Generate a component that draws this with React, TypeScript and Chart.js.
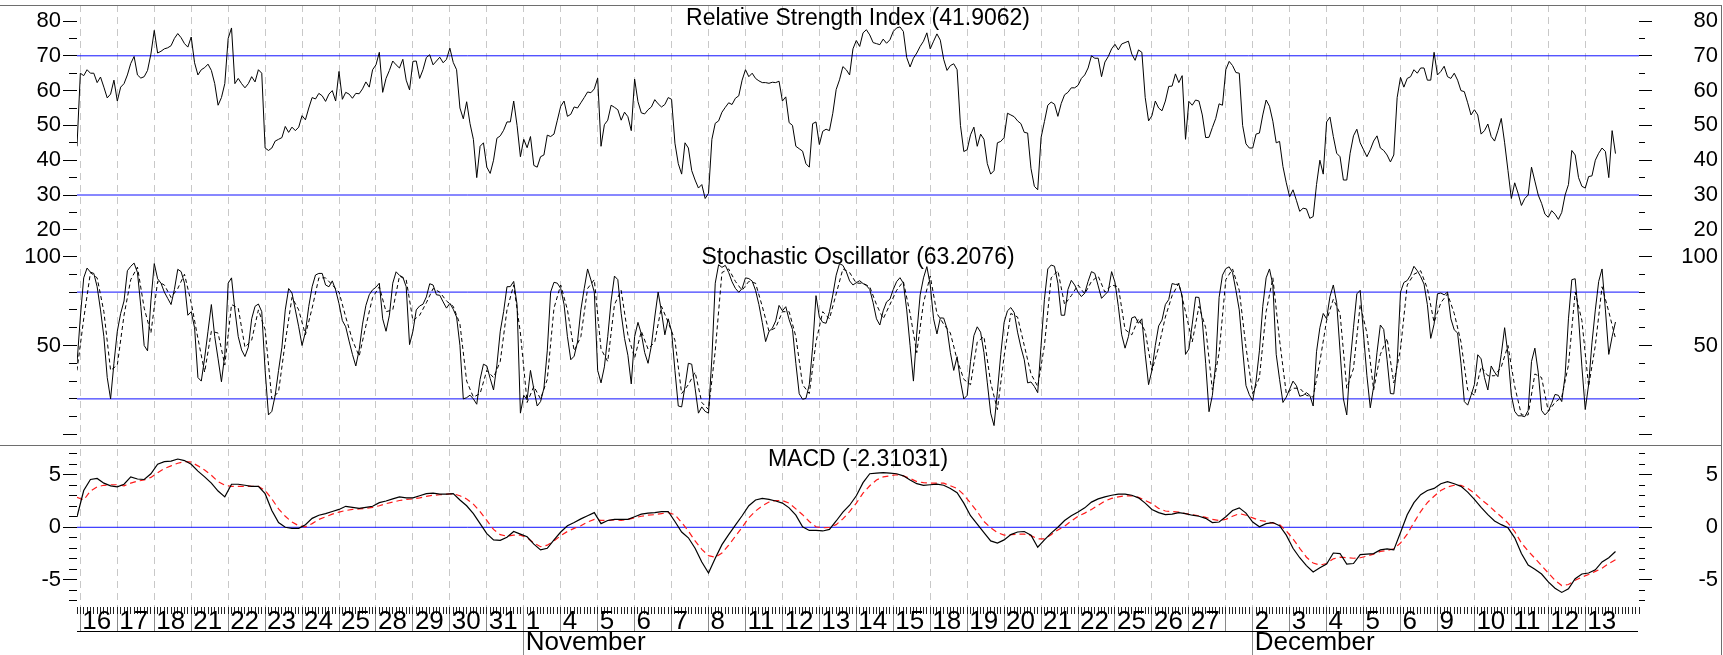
import React, { useEffect, useRef } from 'react';
import { Chart, registerables } from 'chart.js';

Chart.register(...registerables);

// ---------------- data ----------------
const DAY_LABELS = ['16','17','18','21','22','23','24','25','28','29','30','31','1','4','5','6','7','8','11','12','13','14','15','18','19','20','21','22','25','26','27','','2','3','4','5','6','9','10','11','12','13'];
const BARS_PER_DAY = [11,11,11,11,11,11,11,11,11,11, 11,11,11,11,11,11,11,11,11,11, 11,11,11,11,11,11,11,11,11,11, 11,8,11,11,11,11,11,11,11,11, 11,11];
const FIRST_SESSION_BAR = 1;
const LAST_AXIS_BAR = 465;
const MONTH_LABELS = ['November', 'December'];
const MONTH_FIRST_DAY = [12, 32];

const RSI_TITLE = 'Relative Strength Index (41.9062)';
const STOCH_TITLE = 'Stochastic Oscillator (63.2076)';
const MACD_TITLE = 'MACD (-2.31031)';

const RSI_STEP = 1;
const RSI = [
44,65,64.3,66,65,65,62.3,63.9,61,57.9,
59,63,57,61,62,64.5,67.8,69.8,64.5,63.6,
64,65.8,70.5,77.3,70.8,71.3,72,72.3,72.9,75,
76.4,75.2,73.5,72.5,75.4,68,64.5,66,66.6,67.6,
65.8,62,55.8,58,62,75,78,62,63.5,62,
60.8,62,64,62.5,66,65,43.5,42.8,43.5,45.5,
46,46.5,49.7,48,49.5,48.5,49.5,52.8,51.6,55,
58,57.6,59.2,58.5,56.9,59,60,57,65.5,57.5,
59.5,59,57.8,59.2,59.1,60.5,62.5,61,66,67.4,
71,59.5,63.5,65.8,68.5,67.4,66.5,69,63,60.2,
68.4,68.5,63.5,66,69.5,70.3,67.4,68.5,69.6,68,
69,72.2,68.1,66,55,51.9,56.8,50.5,46,35,
44,45,38,36.2,40,46.3,47,48.6,51,51,
57,50,41,46,43.6,46.8,38.5,38,41,41.5,
47.2,46.8,47.5,51.5,55.5,57,52.6,53.2,55.3,55,
56.5,58,59.6,59.4,60.5,63.6,44,50.2,51.5,55.8,
55.2,54.5,51.5,53.8,52.5,48.5,63.3,56.8,53.6,53.3,
54.5,55.3,57.4,56.2,55.3,56,58,57.5,44.9,39,
36,45,43.5,37,34.3,32,33,29,30.5,46,
50.6,51.3,53.8,55.2,56.5,56,57.8,58.5,63,66,
64,65,63.5,62.8,62.3,62.3,62.1,62.4,62.3,62.7,
57,58.2,50.8,50,44,43.3,42.6,39,38,50.5,
51,44.5,48.3,48.9,48.5,53.5,60.3,63.1,66.9,66,
64.5,72,74.4,72.7,76.6,77.5,76,73.8,73.5,73.2,
74.8,73.6,74.6,77,78,78.3,77,69.5,66.8,69.3,
70.8,72.7,74.2,76.6,72,74.2,76.3,74.5,69,65.8,
67.2,67.7,66,50,42.5,43,47.3,49.5,44,47.5,
46,39,36,37,45,45.4,46.5,53.5,53,52.5,
51.3,50.5,48,47.8,37.6,32.5,31.5,46.5,51.1,55.8,
56.7,56.1,52.6,56.3,58.8,59.5,60.8,60.8,61.5,63.5,
64.5,66.5,70,69.3,69.3,64,68.2,69.8,72,73.3,
71.7,73.4,73.8,74.2,70.5,68.7,71.7,71,58,51.3,
52.8,57,55,54.2,57,61.2,61.3,64.8,62.3,64.3,
46,56.9,55.8,57.3,57,53,46.5,46.6,49.4,52,
56.2,55.8,66,68.4,67.2,65.2,65,50,44.7,43.5,
43.5,47.5,47.8,53,57.3,55.5,51.2,45,45.4,38.2,
33.5,29.5,31.5,28.5,25.3,26.2,26,23.3,23.8,33,
40,36,51,52.4,46.8,42,41,34.3,34.3,42,
47,48.9,45,43,41,43,45.5,47,43.5,42.8,
41.5,39.5,41.5,58,63.8,61,63.5,64,66,65,
66.5,66.5,63,63,71,64.5,65.5,67,64,63.5,
65,63,60,59.7,56.5,53,54.5,53,47.5,48.5,
50.4,46.8,45.5,48.5,52,45,37,29,33.5,30.5,
27,29,30,38,34,30,27.6,24.5,23.6,25.5,
24.5,23,25,30,33,42.8,41.5,35,32.5,32,
35.3,35.5,40,42,43.5,42.5,35,48.5,41.9
];

const STOCH_K_STEP = 1;
const STOCH_K = [
40,66,88,93.5,91.2,90.5,83,70,55,32,
20,40,58,68,75,92,94.5,96.3,91,72,
50,47,75,96,87.5,85,80,76.5,73,81.5,
92.8,91.5,85,67,69,60,32,30,43,58,
73,55,42.5,29.6,45,85,88,70,55,47.5,
43.8,49,65,72,73.3,69,36,11,13,22,
36,49,70,82,79.5,70,60.5,50,57.5,72,
83,89.6,90.5,90.5,84,83,86.3,81.2,73.5,64,
60.5,52.5,45,38.5,47.5,62,72.5,78.5,81.3,82.7,
85,65,58,67,85,91.4,89.4,88.4,83,50.5,
58,70,72.2,73.2,77.3,84.7,84,78.5,78.2,74.5,
71,73.7,70.4,66,50,20,20.7,22.1,20,17,
31,39.5,38.5,31.5,25,39,58,69,83,83.1,
86,73,12,22,19.5,36,25.5,16,18.5,26,
47,80,85.5,85,82,73,55,42,44,52,
70,82,93,86.8,80,36,29,38,55,75,
89,87,68,54,44.5,28.4,55,63,56.5,46,
40,50,66,80,69,56,65,58,36,16,
15.5,27,40,39.5,26,12,15.5,13,12,43,
85,95.4,93.9,95,91,85.8,82.1,79.9,82,88,
87.6,86.2,81,73,63,52.2,57.9,59.7,63.8,72.5,
69.5,71.8,64.5,59,40,22.9,19.8,20.3,28,49,
78,66,63,62.5,69,78.4,89.5,96,95,91.5,
86.3,84,85.3,86.4,84.8,83.7,81.5,74,65,61.5,
69.5,74.5,76,81.5,85.9,88.1,85,70,50,30,
57,78.4,88,94.3,84,65,56.5,65.5,65.4,59.5,
46,36,43.7,30,20,22,41,55.5,60.5,57.5,
46,29,12,5,24,45,63,69.5,71.3,68.5,
57.5,49,42,29,29.5,27,23.5,50,76,93,
95.2,94.5,85,67,67,81.5,86.6,84,80,77.5,
79.4,86,91.5,90.5,83.5,76.5,78.5,80.5,91.5,85.5,
72,56,48.5,55,65.5,66.2,62.5,65,45,28,
36,50,61,64.3,73,75.8,84.8,84.3,84.5,78,
45,48,62,77.2,77,64,40,12.8,22,40,
77,89.5,93.2,94.2,91,81,70,48,27.5,22.3,
19,30,47,72,88,93,84,45,31,18,
21,25.5,30,27.5,21.5,22,23.5,22,16,46.5,
60,68,65,77.5,84,74,47,20,11,40,
60,79,81,56,33,15,27,46,61.5,59,
42,23,22.8,40,80,85.4,86.5,89.5,94.5,92,
88.7,84.5,73,54,62,79,79.5,78.5,80,65,
58.8,57,40,18.5,16.5,22,28,44.8,42.5,32,
25,38.5,35,32.5,45,60,45,22,13,10.5,
10.5,10,13.5,41,48.5,35,13.5,11,13,17.5,
22.5,22,18.5,33,65,87,87.5,66,38,14,
28,51.5,70,86,93,70,45,55,63.2
];

const STOCH_D_STEP = 2;
const STOCH_D = [
36,65,91,88,69,36,39,67,87,94,
71,57,86,84,77,82,90,74,54,35,
58,57,39,73,71,49,53,70,59,20,
24,52,77,70,56,71,88,88,84,80,
66,53,44,61,77,83,69,70,89,87,
64,67,74,82,80,75,72,62,30,21,
23,36,32,41,70,84,57,18,27,20,
31,71,84,70,47,55,82,87,48,41,
73,81,56,43,58,48,52,72,63,53,
23,28,35,18,14,47,91,93,86,81,
86,85,72,58,60,69,69,55,28,23,
52,69,65,79,93,91,85,85,83,73,
65,73,81,86,68,46,74,89,68,62,
57,42,31,28,52,55,29,14,44,68,
66,50,34,27,50,88,92,73,78,84,
79,86,89,80,84,83,59,56,65,58,
36,49,66,78,85,69,52,72,60,25,
46,87,93,81,49,23,32,69,88,53,
23,26,26,22,21,41,64,76,68,26,
37,73,57,25,45,54,29,48,84,90,
92,82,63,74,79,68,52,25,22,38,
33,33,38,50,27,11,11,34,32,13,
18,21,39,80,64,27,50,83,69,54
];

const MACD_STEP = 2;
const MACD = [
1.0,3.5,4.55,4.65,4.2,3.95,3.85,4.1,4.8,4.6,
4.55,5.1,6.0,6.25,6.3,6.5,6.35,6.0,5.35,4.8,
4.2,3.45,2.9,4.1,4.1,4.0,3.9,3.9,3.2,1.6,
0.45,0,-0.1,-0.1,0.25,0.85,1.15,1.3,1.5,1.7,
2.0,1.9,1.8,1.9,2.0,2.35,2.5,2.7,2.9,2.8,
2.8,3.0,3.2,3.25,3.15,3.15,3.2,2.6,2.05,1.3,
0.35,-0.6,-1.2,-1.25,-0.95,-0.4,-0.65,-0.9,-1.6,-2.15,
-2.0,-1.2,-0.45,0.15,0.45,0.8,1.1,1.4,0.35,0.65,
0.75,0.75,0.75,1.0,1.25,1.35,1.4,1.5,1.5,0.55,
-0.45,-1.0,-2.0,-3.3,-4.35,-2.95,-1.65,-0.7,0.2,1.1,
2.05,2.6,2.75,2.65,2.5,2.3,1.85,1.15,0.05,-0.3,
-0.3,-0.35,-0.2,0.6,1.45,2.1,3.0,4.25,5.1,5.15,
5.2,5.15,5.1,4.9,4.5,4.15,4.0,4.05,4.1,4.0,
3.7,3.3,2.3,1.1,0.3,-0.5,-1.3,-1.5,-1.2,-0.7,
-0.45,-0.4,-0.75,-1.9,-1.2,-0.55,0,0.65,1.1,1.45,
1.85,2.4,2.7,2.9,3.05,3.15,3.15,3.05,2.8,2.3,
1.7,1.4,1.2,1.25,1.4,1.3,1.15,1.05,0.85,0.45,
0.5,1.0,1.6,1.85,1.35,0.5,0.05,0.35,0.45,0.15,
-0.75,-2.0,-2.9,-3.65,-4.25,-3.85,-3.5,-2.45,-2.5,-3.5,
-3.45,-2.6,-2.55,-2.5,-2.15,-2.05,-2.15,-0.5,1.2,2.35,
3.1,3.5,3.7,4.15,4.35,4.15,3.9,3.35,2.65,1.9,
1.2,0.6,0.25,-0.05,-1.0,-2.5,-3.6,-4.0,-4.45,-5.2,
-5.8,-6.2,-5.85,-4.9,-4.45,-4.35,-4.05,-3.3,-2.9,-2.31
];

const SIGNAL_STEP = 2;
const SIGNAL = [
2.85,2.6,3.45,3.85,4.0,4.05,4.05,3.95,4.2,4.4,
4.5,4.75,5.2,5.6,5.85,6.1,6.25,6.2,5.85,5.45,
4.95,4.35,4.0,3.9,3.9,3.9,3.9,3.9,3.5,2.7,
1.75,1.05,0.5,0.15,0.05,0.35,0.75,1.0,1.25,1.45,
1.6,1.7,1.75,1.8,1.9,2.05,2.25,2.4,2.55,2.65,
2.7,2.8,2.95,3.05,3.1,3.15,3.2,3.0,2.7,2.2,
1.5,0.65,-0.2,-0.7,-0.85,-0.75,-0.75,-1.0,-1.5,-1.85,
-1.7,-1.3,-0.8,-0.4,-0.1,0.15,0.5,0.75,0.65,0.65,
0.7,0.65,0.75,0.9,1.05,1.15,1.2,1.3,1.4,1.2,
0.45,-0.35,-1.3,-2.1,-2.7,-2.85,-2.45,-1.7,-0.85,0.0,
0.9,1.55,2.05,2.4,2.55,2.55,2.3,1.75,1.2,0.55,
0.05,-0.05,0.0,0.25,0.8,1.5,2.3,3.25,3.95,4.5,
4.8,4.9,5.0,4.9,4.65,4.35,4.25,4.2,4.2,4.2,
3.95,3.7,3.1,2.3,1.5,0.55,-0.05,-0.5,-0.75,-0.7,
-0.65,-0.65,-0.8,-1.1,-1.1,-0.7,-0.25,0.1,0.6,1.05,
1.35,1.7,2.1,2.5,2.75,2.9,3.0,3.0,2.85,2.55,
2.25,1.8,1.55,1.5,1.45,1.3,1.2,1.1,0.95,0.75,
0.65,0.75,1.05,1.3,1.15,0.9,0.65,0.55,0.4,0.25,
-0.35,-1.1,-2.0,-2.85,-3.4,-3.6,-3.45,-3.0,-2.85,-2.9,
-2.95,-2.9,-2.75,-2.55,-2.3,-2.2,-2.05,-1.5,-0.65,0.45,
1.5,2.35,2.95,3.5,3.85,4.0,4.0,3.7,3.25,2.65,
2.15,1.55,1.0,0.4,-0.4,-1.5,-2.25,-2.95,-3.65,-4.35,
-5.05,-5.55,-5.45,-5.05,-4.75,-4.5,-4.2,-3.9,-3.45,-3.1
];

const RSI_LEVELS = [70, 30];
const STOCH_LEVELS = [80, 20];
const MACD_LEVELS = [0];

// ---------------- layout / style ----------------
const W = 1723;
const H = 655;
const SANS = "'Liberation Sans', Arial, Helvetica, sans-serif";
const NARROW = "'Liberation Sans Narrow', 'Arial Narrow', 'Liberation Sans', sans-serif";

const RSI_RANGE = [17.07, 84.6];
const STOCH_RANGE = [-6.46, 109.27];
const MACD_RANGE = [-7.59, 7.74];
const PANEL_WEIGHTS = [235, 206, 161];
const TITLE_DY = [13.5, 17.5, 13.7];

const fixSize = (w?: number, h?: number) => (s: any) => {
  if (w !== undefined) s.width = w;
  if (h !== undefined) s.height = h;
  s.paddingTop = 0; s.paddingBottom = 0; s.paddingLeft = 0; s.paddingRight = 0;
};

function yAxis(o: any) {
  return {
    type: 'linear',
    position: o.position,
    stack: o.stack,
    stackWeight: o.stackWeight,
    weight: o.weight,
    min: o.range[0],
    max: o.range[1],
    grid: { display: true, drawOnChartArea: false, drawTicks: true, tickLength: o.tickLength, tickColor: '#000', tickWidth: 1, lineWidth: 1 },
    border: { display: false },
    ticks: {
      display: !!o.labels,
      stepSize: o.step,
      includeBounds: false,
      autoSkip: false,
      font: { family: SANS, size: 22 },
      color: '#000',
      padding: 2,
      crossAlign: o.crossAlign || 'near',
      callback: (v: number) => (o.hideZero && v === 0 ? '' : String(v)),
    },
    afterFit: fixSize(o.width),
  };
}

const xy = (vals: number[], step: number) => vals.map((y, i) => ({ x: i * step, y }));
const hline = (v: number) => [{ x: 0, y: v }, { x: LAST_AXIS_BAR, y: v }];

const titlePlugin = {
  id: 'panelTitles',
  beforeDatasetsDraw(chart: any) {
    const ctx = chart.ctx;
    const ca = chart.chartArea;
    const cx = (ca.left + ca.right) / 2;
    ctx.save();
    ctx.font = `23px ${SANS}`;
    ctx.fillStyle = '#000';
    ctx.textAlign = 'center';
    ctx.textBaseline = 'middle';
    const items = [
      [RSI_TITLE, 'yRsi', TITLE_DY[0]],
      [STOCH_TITLE, 'ySto', TITLE_DY[1]],
      [MACD_TITLE, 'yMacd', TITLE_DY[2]],
    ];
    for (const [t, id, dy] of items as any) {
      ctx.fillText(t, cx, chart.scales[id].top + dy);
    }
    ctx.restore();
  },
};

export default function App() {
  const ref = useRef<HTMLCanvasElement | null>(null);

  useEffect(() => {
    if (!ref.current) return;
    const dayStarts: number[] = [];
    let acc = FIRST_SESSION_BAR;
    for (const b of BARS_PER_DAY) { dayStarts.push(acc); acc += b; }
    const monthTicks = MONTH_FIRST_DAY.map((d) => dayStarts[d]);

    const line = (extra: any) => ({
      pointRadius: 0, pointHoverRadius: 0, tension: 0, fill: false, borderWidth: 1,
      borderColor: '#000', xAxisID: 'x', ...extra,
    });

    const datasets: any[] = [
      line({ label: 'RSI', data: xy(RSI, RSI_STEP), yAxisID: 'yRsi' }),
      line({ label: '%K', data: xy(STOCH_K, STOCH_K_STEP), yAxisID: 'ySto' }),
      line({ label: '%D', data: xy(STOCH_D, STOCH_D_STEP), yAxisID: 'ySto', borderDash: [4, 3] }),
      line({ label: 'MACD', data: xy(MACD, MACD_STEP), yAxisID: 'yMacd', borderWidth: 1.2 }),
      line({ label: 'Signal', data: xy(SIGNAL, SIGNAL_STEP), yAxisID: 'yMacd', borderColor: '#ff1a1a', borderWidth: 1.2, borderDash: [6, 4] }),
      ...RSI_LEVELS.map((v) => line({ label: 'rsi' + v, data: hline(v), yAxisID: 'yRsi', borderColor: '#1010ff' })),
      ...STOCH_LEVELS.map((v) => line({ label: 'sto' + v, data: hline(v), yAxisID: 'ySto', borderColor: '#1010ff' })),
      ...MACD_LEVELS.map((v) => line({ label: 'macd' + v, data: hline(v), yAxisID: 'yMacd', borderColor: '#1010ff' })),
    ];

    const chart = new Chart(ref.current, {
      type: 'line',
      data: { datasets },
      plugins: [titlePlugin],
      options: {
        animation: false,
        responsive: false,
        devicePixelRatio: 1,
        events: [],
        layout: { padding: { top: 5, right: 5, bottom: 0, left: 0 } },
        plugins: { legend: { display: false }, tooltip: { enabled: false }, title: { display: false } },
        scales: {
          x: {
            type: 'linear', position: 'bottom', min: 0, max: LAST_AXIS_BAR,
            afterBuildTicks: (s: any) => { s.ticks = dayStarts.map((v) => ({ value: v })); },
            ticks: {
              autoSkip: false, maxRotation: 0, minRotation: 0, align: 'start', labelOffset: 2, padding: -25,
              font: { family: NARROW, size: 26 }, color: '#000',
              callback: (_v: any, i: number) => DAY_LABELS[i],
            },
            grid: { display: true, drawOnChartArea: true, color: '#c8c8c8', lineWidth: 1, drawTicks: true, tickLength: 24, tickColor: '#8a8a8a', tickWidth: 1 },
            border: { display: false, dash: [7, 5] },
            afterFit: fixSize(undefined, 48),
          },
          xMinor: {
            type: 'linear', position: { yMacd: MACD_RANGE[0] }, min: 0, max: LAST_AXIS_BAR,
            ticks: { display: false, stepSize: 1, autoSkip: false, includeBounds: false },
            grid: { display: true, drawOnChartArea: false, drawTicks: true, tickLength: 7, tickColor: '#222', tickWidth: 1 },
            border: { display: false },
            afterFit: fixSize(),
          },
          xMonth: {
            type: 'linear', position: { yMacd: MACD_RANGE[0] }, min: 0, max: LAST_AXIS_BAR,
            afterBuildTicks: (s: any) => { s.ticks = monthTicks.map((v) => ({ value: v })); },
            ticks: {
              autoSkip: false, maxRotation: 0, minRotation: 0, align: 'start', labelOffset: 2, padding: -28,
              font: { family: NARROW, size: 26 }, color: '#000',
              callback: (_v: any, i: number) => MONTH_LABELS[i],
            },
            grid: { display: true, drawOnChartArea: false, drawTicks: true, tickLength: 48, tickColor: '#8a8a8a', tickWidth: 1 },
            border: { display: false },
            afterFit: fixSize(),
          },
          // left, outer (labels + outer half of major ticks)
          yRsi: yAxis({ position: 'left', stack: 'L2', weight: 6, stackWeight: PANEL_WEIGHTS[0], range: RSI_RANGE, step: 10, tickLength: 6, width: 69, labels: true }),
          ySto: yAxis({ position: 'left', stack: 'L2', weight: 5, stackWeight: PANEL_WEIGHTS[1], range: STOCH_RANGE, step: 50, tickLength: 6, width: 69, labels: true, hideZero: true }),
          yMacd: yAxis({ position: 'left', stack: 'L2', weight: 4, stackWeight: PANEL_WEIGHTS[2], range: MACD_RANGE, step: 5, tickLength: 6, width: 69, labels: true }),
          // left, inner (minor ticks)
          yRsiLm: yAxis({ position: 'left', stack: 'L1', weight: 3, stackWeight: PANEL_WEIGHTS[0], range: RSI_RANGE, step: 5, tickLength: 8, width: 8 }),
          yStoLm: yAxis({ position: 'left', stack: 'L1', weight: 2, stackWeight: PANEL_WEIGHTS[1], range: STOCH_RANGE, step: 10, tickLength: 8, width: 8 }),
          yMacdLm: yAxis({ position: 'left', stack: 'L1', weight: 1, stackWeight: PANEL_WEIGHTS[2], range: MACD_RANGE, step: 1, tickLength: 8, width: 8 }),
          // right, inner (minor ticks)
          yRsiRm: yAxis({ position: 'right', stack: 'R1', weight: 1, stackWeight: PANEL_WEIGHTS[0], range: RSI_RANGE, step: 5, tickLength: 6, width: 6 }),
          yStoRm: yAxis({ position: 'right', stack: 'R1', weight: 2, stackWeight: PANEL_WEIGHTS[1], range: STOCH_RANGE, step: 10, tickLength: 6, width: 6 }),
          yMacdRm: yAxis({ position: 'right', stack: 'R1', weight: 3, stackWeight: PANEL_WEIGHTS[2], range: MACD_RANGE, step: 1, tickLength: 6, width: 6 }),
          // right, outer (labels)
          yRsiR: yAxis({ position: 'right', stack: 'R2', weight: 4, stackWeight: PANEL_WEIGHTS[0], range: RSI_RANGE, step: 10, tickLength: 7, width: 73, labels: true, crossAlign: 'far' }),
          yStoR: yAxis({ position: 'right', stack: 'R2', weight: 5, stackWeight: PANEL_WEIGHTS[1], range: STOCH_RANGE, step: 50, tickLength: 7, width: 73, labels: true, hideZero: true, crossAlign: 'far' }),
          yMacdR: yAxis({ position: 'right', stack: 'R2', weight: 6, stackWeight: PANEL_WEIGHTS[2], range: MACD_RANGE, step: 5, tickLength: 7, width: 73, labels: true, crossAlign: 'far' }),
        } as any,
      } as any,
    } as any);

    return () => chart.destroy();
  }, []);

  const frame = '#6e6e6e';
  return (
    <div style={{ position: 'fixed', left: 0, top: 0, width: W, height: H, background: '#fff', overflow: 'hidden' }}>
      <canvas ref={ref} width={W} height={H} style={{ position: 'absolute', left: 0, top: 0, width: W, height: H }} />
      <div style={{ position: 'absolute', left: 0, top: 5, width: 1722, height: 1, background: frame }} />
      <div style={{ position: 'absolute', left: 0, top: 445, width: 1722, height: 1, background: frame }} />
      <div style={{ position: 'absolute', left: 1721, top: 5, width: 1, height: 650, background: frame }} />
      <div style={{ position: 'absolute', left: 77, top: 631, width: 1561, height: 1, background: '#000' }} />
    </div>
  );
}
